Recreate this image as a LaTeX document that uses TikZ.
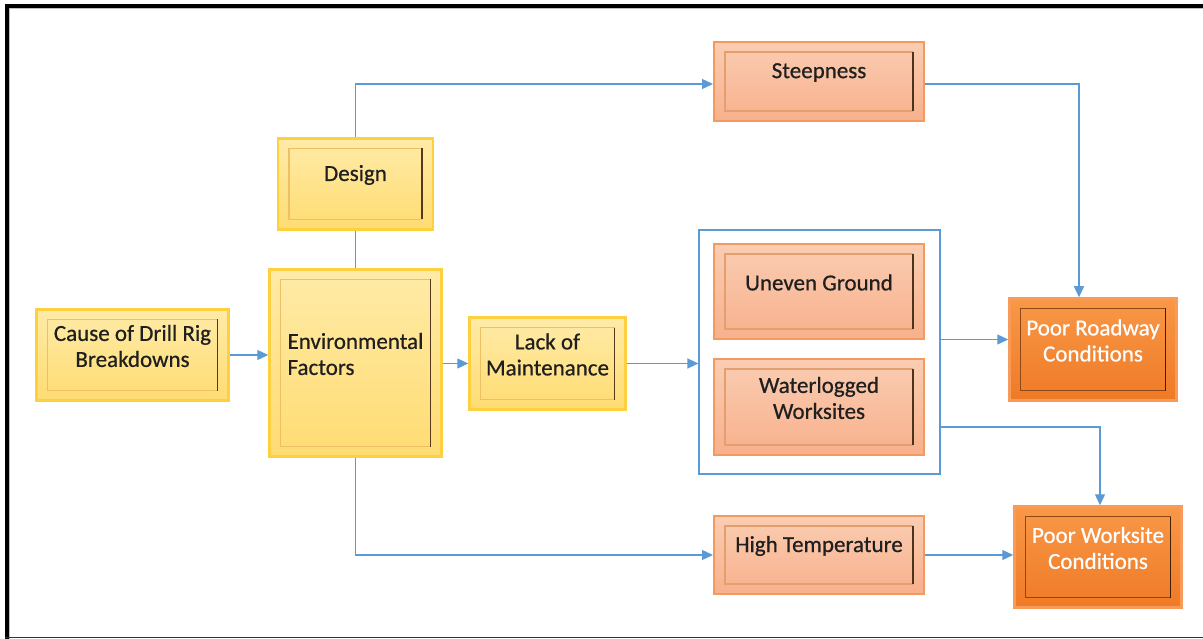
\documentclass[tikz,border=0pt]{standalone}
\usepackage{fontspec}
\setmainfont{Carlito}[FakeBold=0.6]
\usetikzlibrary{arrows.meta, calc}

\definecolor{linkblue}{HTML}{5B9BD5}
\definecolor{goldedge}{HTML}{FCD03E}
\definecolor{yellowtop}{HTML}{FFEBA8}
\definecolor{yellowbot}{HTML}{FFDC72}
\definecolor{salmonedge}{HTML}{F49A60}
\definecolor{salmontop}{HTML}{FACDB2}
\definecolor{salmonbot}{HTML}{F8B08C}
\definecolor{orangeedge}{HTML}{F79A5A}
\definecolor{orangetop}{HTML}{F89848}
\definecolor{orangebot}{HTML}{EF7A26}

\begin{document}
\begin{tikzpicture}[
			x=1pt,
			y=-1pt,
			font=\fontsize{23}{26}\selectfont,
			framed/.style 2 args={
				path picture={
					\coordinate (fnw) at ([xshift=11pt,yshift=-10pt]path picture bounding box.north west);
					\coordinate (fse) at ([xshift=-11pt,yshift=10pt]path picture bounding box.south east);
					\draw[#1, line width=1.2pt] (fse |- fnw) -- (fnw) -- (fnw |- fse) -- (fse);
					\draw[#2, line width=1.6pt] (fse |- fnw) -- (fse);
				}
			},
			basebox/.style={
				rectangle,
				line width=2.5pt,
				inner sep=0pt
			},
			ybox/.style={
				basebox,
				draw=goldedge,
				top color=yellowtop,
				bottom color=yellowbot,
				framed={draw=yellowbot!70!brown}{draw=black!55!brown}
			},
			sbox/.style={
				basebox,
				line width=2pt,
				draw=salmonedge,
				top color=salmontop,
				bottom color=salmonbot,
				framed={draw=salmonbot!65!brown}{draw=black!60!brown}
			},
			obox/.style={
				basebox,
				draw=orangeedge,
				top color=orangetop,
				bottom color=orangebot,
				framed={draw=orangebot!60!black}{draw=black!75!orange}
			},
			txt/.style={
				align=center,
				yshift=9pt,
				text=black!88
			},
			wtxt/.style={
				txt,
				text=white
			},
			link/.style={
				draw=linkblue,
				line width=1.4pt,
				-{Triangle[length=11pt,width=10pt]}
			},
			plainlink/.style={
				draw=linkblue,
				line width=1.4pt
			}
			]
			\useasboundingbox (0,0) rectangle (1203,639);
			% Frame
			\draw[line width=4pt] (7,639) -- (7,6) -- (1203,6);
			\draw[line width=0.8pt, draw=black!25] (9.8,639) -- (9.8,8.5) -- (1203,8.5);
			\draw[line width=1.2pt, draw=black!80] (5,637.4) -- (1203,637.4);

			% Yellow boxes
			\node[ybox, minimum width=192pt, minimum height=91pt,
				label={[txt]center:{Cause of Drill Rig\\Breakdowns}}] (cause) at (132.5,355) {};
			\node[ybox, minimum width=172pt, minimum height=187pt,
				label={[txt, align=left]center:{Environmental\\Factors}}] (env) at (355.5,363) {};
			\node[ybox, minimum width=155pt, minimum height=91pt,
				label={[txt]center:Design}] (design) at (355.5,184) {};
			\node[ybox, minimum width=156pt, minimum height=92pt,
				label={[txt]center:{Lack of\\Maintenance}}] (lack) at (547.5,363.5) {};

			% Salmon boxes
			\node[draw=linkblue, line width=1.2pt, minimum width=241pt, minimum height=244pt] (group) at (819.5,352) {};
			\node[sbox, minimum width=210pt, minimum height=79pt,
				label={[txt]center:Steepness}] (steep) at (819,81.5) {};
			\node[sbox, minimum width=210pt, minimum height=95pt,
				label={[txt]center:Uneven Ground}] (uneven) at (819,291.5) {};
			\node[sbox, minimum width=210pt, minimum height=96pt,
				label={[txt]center:{Waterlogged\\Worksites}}] (water) at (819,407) {};
			\node[sbox, minimum width=210pt, minimum height=78pt,
				label={[txt]center:High Temperature}] (hightemp) at (819,555) {};

			% Orange boxes
			\node[obox, minimum width=167pt, minimum height=102pt,
				label={[wtxt]center:{Poor Roadway\\Conditions}}] (roadway) at (1093,349.5) {};
			\node[obox, minimum width=167pt, minimum height=101pt,
				label={[wtxt]center:{Poor Worksite\\Conditions}}] (worksite) at (1098,557) {};

			% Connectors
			\draw[link] (cause.east) -- (cause.east -| env.west);
			\draw[link] (env.east |- lack.west) -- (lack.west);
			\draw[link] (lack.east) -- (lack.east -| group.west);
			\draw[link] (design.north) |- ([yshift=-2.5pt]steep.west);
			\draw[plainlink] (design.south) -- (design.south |- env.north);
			\draw[link] (env.south) |- (hightemp.west);
			\draw[link] ([yshift=-2.5pt]steep.east) -| ([xshift=-14pt]roadway.north);
			\draw[link] ([yshift=10pt]roadway.west -| group.east) -- ([yshift=10pt]roadway.west);
			\draw[link] ([yshift=-75pt]group.east) -| ([xshift=2pt]worksite.north);
			\draw[link] (hightemp.east) -- (hightemp.east -| worksite.west);
		\end{tikzpicture}
\end{document}
